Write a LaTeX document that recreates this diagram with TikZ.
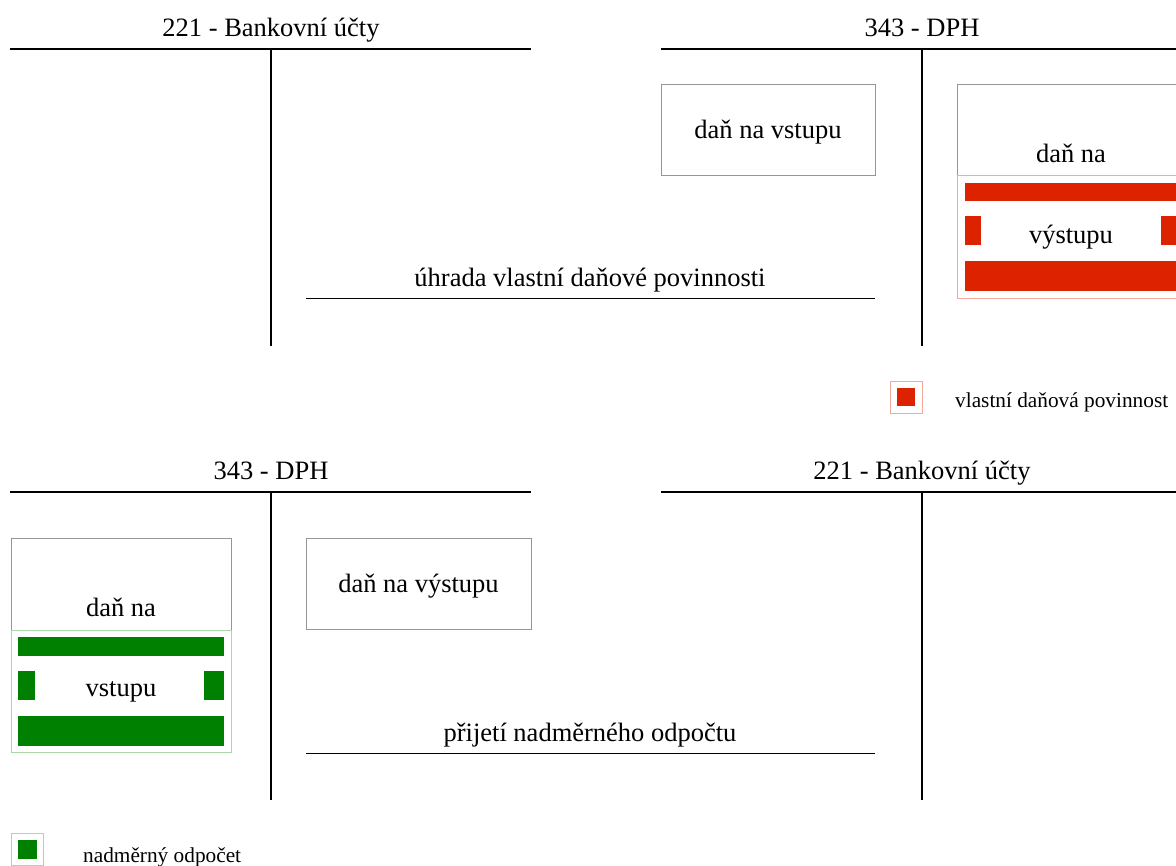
\documentclass[tikz,border=0pt]{standalone}
\usepackage{fontspec}
\setmainfont{Liberation Serif}
\usetikzlibrary{positioning}
\definecolor{dphred}{RGB}{221,34,0}
\definecolor{dphredlight}{RGB}{245,170,155}
\definecolor{dphgreen}{RGB}{0,128,0}
\definecolor{dphgreenlight}{RGB}{170,215,170}
\definecolor{boxgray}{RGB}{150,150,150}
\tikzset{account/.style={black, line width=1.5pt}}
\tikzstyle{amount} = [rectangle, draw=boxgray, line width=0.8pt, inner sep=0pt, text depth=0pt]
\tikzstyle{part} = [rectangle, line width=0.8pt, inner sep=0pt]
\tikzstyle{title} = [anchor=base, inner sep=0pt]

\begin{document}
\begin{tikzpicture}[x=1pt, y=-1pt]
  \tikzstyle{every node}=[font=\fontsize{26.5}{30}\selectfont]
  \useasboundingbox (0,0) rectangle (1176,866);

  % upper half: vlastni danova povinnost
  \draw [account] (10,49) -- (531,49) (271,49) -- (271,346);
  \draw [account] (661,49) -- (1190,49) (922,49) -- (922,346);
  \node [title] (bank1) at (271,37) {221 - Bankovní účty};
  \node [title] (dph1)  at (922,37) {343 - DPH};

  \node [amount, minimum width=214pt, minimum height=91pt] (vstup1) at (768,129.5) {daň na vstupu};
  \node [amount, minimum width=228pt, minimum height=91pt] (vyst1top) at (1071,129.5) {};
  \node [title] (vyst1a) at (1071,163) {daň na};
  \node [part, draw=dphredlight, minimum width=228pt, minimum height=123pt, below=0pt of vyst1top] (vyst1) {výstupu};
  \fill [dphred] ([xshift=8pt,yshift=-8pt]vyst1.north west) rectangle ([xshift=-8pt,yshift=-26pt]vyst1.north east);
  \fill [dphred] ([xshift=8pt,yshift=-41pt]vyst1.north west) rectangle ([xshift=24pt,yshift=-70pt]vyst1.north west);
  \fill [dphred] ([xshift=-24pt,yshift=-41pt]vyst1.north east) rectangle ([xshift=-8pt,yshift=-70pt]vyst1.north east);
  \fill [dphred] ([xshift=8pt,yshift=-86pt]vyst1.north west) rectangle ([xshift=-8pt,yshift=-116pt]vyst1.north east);

  \node [title] (uhrada) at (590,287) {úhrada vlastní daňové povinnosti};
  \draw [black, line width=1pt] (306,299) -- (875,299);

  \node [part, draw=dphredlight, minimum size=32pt] (legred) at (906,397) {};
  \fill [dphred] ([xshift=-9pt,yshift=-9pt]legred.center) rectangle ([xshift=9pt,yshift=9pt]legred.center);
  \node [anchor=base west, inner sep=0pt, font=\fontsize{21.3}{24}\selectfont] (legredtext) at (955,408) {vlastní daňová povinnost};

  % lower half: nadmerny odpocet
  \draw [account] (10,492) -- (531,492) (271,492) -- (271,800);
  \draw [account] (661,492) -- (1190,492) (922,492) -- (922,800);
  \node [title] (dph2)  at (271,480) {343 - DPH};
  \node [title] (bank2) at (922,480) {221 - Bankovní účty};

  \node [amount, minimum width=220pt, minimum height=92pt] (vstup2top) at (121,584) {};
  \node [title] (vstup2a) at (121,616) {daň na};
  \node [part, draw=dphgreenlight, minimum width=220pt, minimum height=122pt, below=0pt of vstup2top] (vstup2) {vstupu};
  \fill [dphgreen] ([xshift=7pt,yshift=-7pt]vstup2.north west) rectangle ([xshift=-7pt,yshift=-26pt]vstup2.north east);
  \fill [dphgreen] ([xshift=7pt,yshift=-41pt]vstup2.north west) rectangle ([xshift=24pt,yshift=-70pt]vstup2.north west);
  \fill [dphgreen] ([xshift=-27pt,yshift=-41pt]vstup2.north east) rectangle ([xshift=-7pt,yshift=-70pt]vstup2.north east);
  \fill [dphgreen] ([xshift=7pt,yshift=-86pt]vstup2.north west) rectangle ([xshift=-7pt,yshift=-116pt]vstup2.north east);

  \node [amount, minimum width=225pt, minimum height=91pt] (vyst2) at (418.5,583.5) {daň na výstupu};

  \node [title] (prijeti) at (590,741) {přijetí nadměrného odpočtu};
  \draw [black, line width=1pt] (306,753) -- (875,753);

  \node [part, draw=dphgreenlight, minimum size=32pt] (leggreen) at (27,849) {};
  \fill [dphgreen] ([xshift=-9.5pt,yshift=-9.5pt]leggreen.center) rectangle ([xshift=9.5pt,yshift=9.5pt]leggreen.center);
  \node [anchor=base west, inner sep=0pt, font=\fontsize{21.3}{24}\selectfont] (leggreentext) at (83,862) {nadměrný odpočet};
\end{tikzpicture}
\end{document}
